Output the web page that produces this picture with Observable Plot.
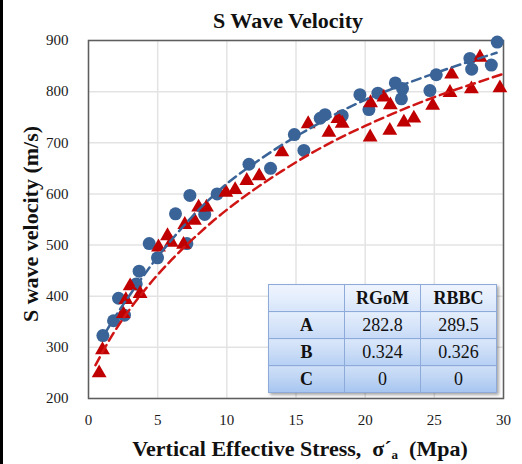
<!DOCTYPE html>
<html><head><meta charset="utf-8">
<script src="https://cdn.jsdelivr.net/npm/d3@7"></script>
<script src="https://cdn.jsdelivr.net/npm/@observablehq/plot@0.6"></script>
<style>
body{margin:0;background:#fff;}
#wrap{position:relative;width:522px;height:464px;overflow:hidden;font-family:"Liberation Serif","Times New Roman",serif;color:#111;}
#wrap svg, #wrap svg text{font-family:"Liberation Serif","Times New Roman",serif !important;}
#strip{position:absolute;left:0;top:0;width:3px;height:464px;background:#000;}
#title{position:absolute;left:138px;width:300px;top:10px;text-align:center;font-weight:bold;font-size:22px;line-height:22px;}
#xlab{position:absolute;left:50px;width:500px;top:438px;text-align:center;font-weight:bold;font-size:22px;line-height:22px;white-space:pre;}
#xlab sub{font-size:13px;vertical-align:-3px;line-height:13px;}
#ylab{position:absolute;left:31px;top:224px;transform:translate(-50%,-50%) rotate(-90deg);font-weight:bold;font-size:22px;line-height:22px;white-space:nowrap;}
#tbl{position:absolute;left:268px;top:284px;border-collapse:collapse;background:linear-gradient(#e6effd,#a6c5f0);box-shadow:2px 2px 3px rgba(0,0,0,0.35);font-family:"Liberation Serif","Times New Roman",serif;font-size:18px;color:#111;}
#tbl td{border:1px solid #8eaad8;width:75px;height:26px;text-align:center;padding:0;background:linear-gradient(rgba(255,255,255,0.35),rgba(255,255,255,0));}
#tbl td.b{font-weight:bold;}
</style></head><body><div id="wrap"><div id="strip"></div></div>
<script>
// axis ticks
const xTicks = [0, 5, 10, 15, 20, 25, 30];
const yTicks = [200, 300, 400, 500, 600, 700, 800, 900];

// RGoM (blue circles)
const rgomStress = [1.04, 1.81, 2.17, 2.6, 3.45, 3.66, 4.39, 4.99, 6.29, 7.11, 7.33, 8.4, 9.3, 11.6, 13.16, 14.88, 15.57, 16.75, 17.1, 18.34, 19.62, 20.27, 20.92, 22.18, 22.7, 22.62, 24.68, 25.14, 27.57, 27.7, 29.12, 29.55];
const rgomVs = [323, 352, 396, 363, 424, 449, 503, 475, 561, 503, 597, 560, 600, 658, 650, 716, 685, 748, 755, 753, 794, 765, 797, 817, 806, 786, 802, 833, 865, 844, 852, 897];

// RBBC (red triangles)
const rbbcStress = [0.77, 1.01, 2.5, 2.7, 3.01, 3.73, 5.06, 5.71, 5.98, 6.87, 6.96, 7.66, 7.96, 8.53, 9.93, 10.6, 11.44, 12.34, 13.98, 15.88, 17.38, 18.03, 18.34, 20.36, 20.39, 21.35, 21.82, 21.78, 22.8, 23.52, 24.88, 26.13, 26.25, 27.68, 28.3, 29.74];
const rbbcVs = [250, 295, 366, 393, 420, 405, 496, 518, 505, 501, 540, 548, 574, 574, 603, 608, 626, 635, 682, 737, 720, 747, 738, 711, 778, 789, 774, 724, 740, 748, 773, 798, 834, 805, 867, 807];

// fitted trend curves
const rgomFitStress = [1.2, 2, 3, 4, 5, 6, 7, 8, 9, 10, 12, 14, 16, 18, 20, 22, 24, 26, 28, 29.5];
const rgomFitVs = [328, 363, 403, 441, 477, 510, 541, 570, 596, 620, 660, 696, 728, 758, 784, 806, 826, 845, 863, 876];
const rbbcFitStress = [0.5, 1, 1.5, 2, 3, 4, 5, 6, 7, 8, 9, 10, 12, 14, 16, 18, 20, 22, 24, 26, 28, 30];
const rbbcFitVs = [265, 290, 314, 336, 375, 410, 442, 471, 498, 523, 547, 569, 609, 645, 678, 707, 733, 757, 779, 799, 817, 835];

// table
const tblHeader = ["", "RGoM", "RBBC"];
const tblRows = ["A", "B", "C"];
const tblRGoM = ["282.8", "0.324", "0"];
const tblRBBC = ["289.5", "0.326", "0"];

const zip = (xs, ys) => xs.map((x, i) => ({x, y: ys[i]}));
const rgom = zip(rgomStress, rgomVs);
const rbbc = zip(rbbcStress, rbbcVs);
const rgomFit = zip(rgomFitStress, rgomFitVs);
const rbbcFit = zip(rbbcFitStress, rbbcFitVs);

const blue = "#3a6497", red = "#c00000";
const serif = "Liberation Serif, Times New Roman, serif";

const chart = Plot.plot({
  width: 522, height: 464,
  marginLeft: 88, marginRight: 19, marginTop: 40, marginBottom: 66,
  style: {fontFamily: serif, fontSize: "14px", color: "#1a1a1a", background: "transparent"},
  x: {domain: [0, 30]},
  y: {domain: [200, 900]},
  marks: [
    Plot.gridX(xTicks, {stroke: "#e3e3e3", strokeOpacity: 1, strokeWidth: 1.5}),
    Plot.gridY(yTicks, {stroke: "#e3e3e3", strokeOpacity: 1, strokeWidth: 1.5}),
    Plot.frame({stroke: "#5e5e5e", strokeWidth: 1.5}),
    Plot.axisX(xTicks, {tickSize: 0, tickPadding: 16, label: null, fontSize: 15, fontFamily: serif}),
    Plot.axisY(yTicks, {tickSize: 0, tickPadding: 20, label: null, fontSize: 15, fontFamily: serif}),
    Plot.dot(rgom, {x: "x", y: "y", r: 6.5, fill: blue, symbol: "circle"}),
    Plot.dot(rbbc, {x: "x", y: "y", r: 5.5, fill: red, symbol: "triangle"}),
    Plot.line(rgomFit, {x: "x", y: "y", stroke: blue, strokeWidth: 2.5, strokeDasharray: "9,5", curve: "monotone-x"}),
    Plot.line(rbbcFit, {x: "x", y: "y", stroke: "#d01515", strokeWidth: 2.5, strokeDasharray: "9,5", curve: "monotone-x"})
  ]
});
const wrap = document.getElementById("wrap");
chart.style.position = "absolute"; chart.style.left = "0"; chart.style.top = "0";
wrap.appendChild(chart);

const t = document.createElement("div"); t.id = "title"; t.textContent = "S Wave Velocity"; wrap.appendChild(t);
const xl = document.createElement("div"); xl.id = "xlab"; xl.innerHTML = "Vertical Effective Stress,  σ´<sub>a</sub>  (Mpa)"; wrap.appendChild(xl);
const yl = document.createElement("div"); yl.id = "ylab"; yl.textContent = "S wave velocity (m/s)"; wrap.appendChild(yl);

const tbl = document.createElement("table"); tbl.id = "tbl";
const hr = tbl.insertRow();
tblHeader.forEach(h => { const c = hr.insertCell(); c.textContent = h; c.className = "b"; });
tblRows.forEach((r, i) => {
  const row = tbl.insertRow();
  const c0 = row.insertCell(); c0.textContent = r; c0.className = "b";
  row.insertCell().textContent = tblRGoM[i];
  row.insertCell().textContent = tblRBBC[i];
});
wrap.appendChild(tbl);
</script></body></html>
